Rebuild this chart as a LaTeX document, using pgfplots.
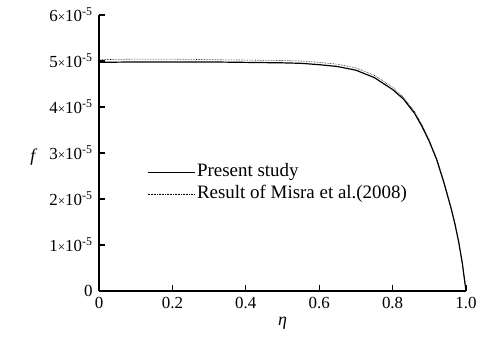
\documentclass[border=0pt]{standalone}
\usepackage{fontspec}
\setmainfont{Liberation Serif}
\usepackage{pgfplots}
\pgfplotsset{compat=1.18}
\newcommand{\sci}[1]{#1{\fontsize{13}{13}\selectfont ×}10\textsuperscript{-5}}
\begin{document}
\begin{tikzpicture}[x=1bp,y=1bp]
\path (0,0) rectangle (483bp,343bp);
\begin{axis}[
  at={(99bp,52bp)}, anchor=origin,
  scale only axis, width=367bp, height=276bp,
  xmin=0, xmax=1, ymin=0, ymax=6,
  axis x line*=bottom, axis y line*=left,
  axis line style={line width=1.8pt},
  tick style={line width=1.4pt, black},
  tick align=inside, major tick length=6bp,
  xtick={0,0.2,0.4,0.6,0.8,1.0},
  xticklabels={0,0.2,0.4,0.6,0.8,1.0},
  ytick={0,1,2,3,4,5,6},
  yticklabels={0,\sci{1},\sci{2},\sci{3},\sci{4},\sci{5},\sci{6}},
  ticklabel style={font=\fontsize{17}{17}\selectfont},
  yticklabel style={xshift=-3bp},
  xticklabel style={yshift=-3bp},
  /pgf/number format/assume math mode=true,
  xlabel={\fontsize{18}{18}\selectfont\itshape η},
  ylabel={\fontsize{18}{18}\selectfont\itshape f},
  ylabel style={rotate=-90, at={(axis description cs:-0.18,0.485)}, anchor=center},
  xlabel style={at={(axis description cs:0.5,-0.115)}, anchor=center},
  legend style={draw=none, fill=none, at={(axis cs:0.13,2.79)}, anchor=north west, font=\fontsize{19}{19}\selectfont, row sep=3bp, inner xsep=0pt, inner ysep=0pt,
    nodes={inner xsep=2pt, inner ysep=1pt, text height=13bp, text depth=4bp}},
  legend cell align=left,
  legend image code/.code={\draw[#1] (0bp,0bp) -- (47bp,0bp);},
]
\addplot[black, line width=1.2pt] coordinates {
(0,4.97) (0.1,4.98) (0.2,4.98) (0.3,4.98) (0.4,4.97) (0.5,4.96) (0.55,4.95) (0.6,4.92) (0.65,4.88) (0.7,4.80) (0.75,4.64) (0.8,4.38) (0.83,4.17) (0.86,3.86) (0.88,3.58) (0.9,3.25) (0.92,2.86) (0.94,2.35) (0.96,1.78) (0.97,1.45) (0.98,1.07) (0.99,0.60) (1.0,0)
};
\addlegendentry{Present study}
\addplot[black, line width=0.6pt, densely dotted] coordinates {
(0,5.03) (0.1,5.04) (0.2,5.04) (0.3,5.03) (0.4,5.02) (0.5,5.01) (0.55,5.00) (0.6,4.97) (0.65,4.93) (0.7,4.85) (0.75,4.69) (0.8,4.43) (0.83,4.21) (0.86,3.90) (0.88,3.61) (0.9,3.28) (0.92,2.88) (0.94,2.37) (0.96,1.79) (0.97,1.46) (0.98,1.08) (0.99,0.61) (1.0,0)
};
\addlegendentry{Result of Misra et al.(2008)}
\end{axis}
\end{tikzpicture}
\end{document}
